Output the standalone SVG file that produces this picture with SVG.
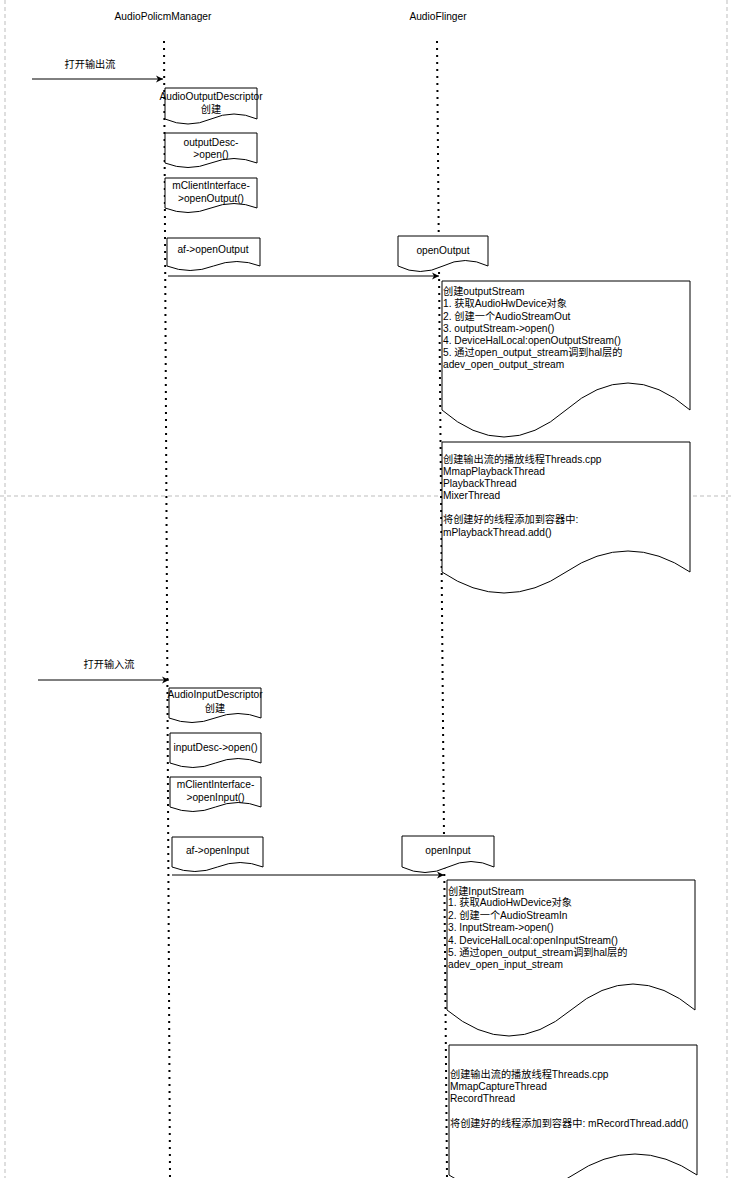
<svg xmlns="http://www.w3.org/2000/svg" width="731" height="1178" viewBox="0 0 731 1178">
<style>
text{font-family:"Liberation Sans","Noto Sans CJK SC",Arial,sans-serif;font-size:10.2px;fill:#000}
.c{text-anchor:middle}
.doc{fill:#fff;stroke:#000;stroke-width:1}
.life{stroke:#000;stroke-width:2;stroke-dasharray:2 5;fill:none}
.frame{stroke:#bdbdbd;stroke-width:1;stroke-dasharray:4 3;fill:none}
.msg{stroke:#000;stroke-width:1;fill:none;marker-end:url(#ah)}
</style>
<defs>
<marker id="ah" markerWidth="8" markerHeight="8" refX="7" refY="4" orient="auto" markerUnits="userSpaceOnUse">
<path d="M0,0.5 L7,4 L0,7.5 L2,4 Z" fill="#000"/>
</marker>
</defs>
<rect width="731" height="1178" fill="#fff"/>
<g id="frame">
<line class="frame" x1="5" y1="0" x2="5" y2="1178"/>
<line class="frame" x1="727" y1="0" x2="727" y2="1178"/>
<line class="frame" x1="0" y1="496" x2="731" y2="496"/>
</g>
<g id="lifelines">
<text class="c" x="163" y="20">AudioPolicmManager</text>
<text class="c" x="438" y="20">AudioFlinger</text>
<line class="life" x1="164" y1="41" x2="170" y2="1178"/>
<line class="life" x1="437" y1="41" x2="447" y2="1178"/>
</g>
<g id="connectors">
<line class="msg" x1="32" y1="79" x2="163" y2="79"/>
<line class="msg" x1="168" y1="276" x2="439" y2="276"/>
<line class="msg" x1="38" y1="680" x2="169" y2="680"/>
<line class="msg" x1="172" y1="875" x2="444" y2="875"/>
<text class="c" x="90" y="68">打开输出流</text>
<text class="c" x="109" y="668">打开输入流</text>
</g>
<g id="n1">
<path class="doc" d="M165,88 H257 V119 Q234,109 211,119 Q188,129 165,119 Z"/>
<text class="c" x="211" y="100">AudioOutputDescriptor</text>
<text class="c" x="211" y="113">创建</text>
</g>
<g id="n2">
<path class="doc" d="M165,133 H257 V163 Q234,154 211,163 Q188,172 165,163 Z"/>
<text class="c" x="211" y="146">outputDesc-</text>
<text class="c" x="211" y="158">&gt;open()</text>
</g>
<g id="n3">
<path class="doc" d="M165,178 H257 V208 Q234,199 211,208 Q188,217 165,208 Z"/>
<text class="c" x="211" y="189">mClientInterface-</text>
<text class="c" x="211" y="202">&gt;openOutput()</text>
</g>
<g id="n4">
<path class="doc" d="M167,238 H260 V266 Q237,257 213.5,266 Q190,275 167,266 Z"/>
<text class="c" x="213" y="253">af-&gt;openOutput</text>
</g>
<g id="n5">
<path class="doc" d="M398,236 H488 V266 Q465,255 443,266 Q420,277 398,266 Z"/>
<text class="c" x="443" y="254">openOutput</text>
</g>
<g id="n6">
<path class="doc" d="M442,281 H690 V410 Q628,356 566,410 Q504,464 442,410 Z"/>
<text x="443" y="295">创建outputStream</text>
<text x="443" y="307">1. 获取AudioHwDevice对象</text>
<text x="443" y="320">2. 创建一个AudioStreamOut</text>
<text x="443" y="332">3. outputStream-&gt;open()</text>
<text x="443" y="344">4. DeviceHalLocal:openOutputStream()</text>
<text x="443" y="356">5. 通过open_output_stream调到hal层的</text>
<text x="443" y="368">adev_open_output_stream</text>
</g>
<g id="n7">
<path class="doc" d="M442,442 H690 V572 Q628,530 566,572 Q504,614 442,572 Z"/>
<text x="443" y="463">创建输出流的播放线程Threads.cpp</text>
<text x="443" y="475">MmapPlaybackThread</text>
<text x="443" y="487">PlaybackThread</text>
<text x="443" y="499">MixerThread</text>
<text x="443" y="523">将创建好的线程添加到容器中:</text>
<text x="443" y="536">mPlaybackThread.add()</text>
</g>
<g id="n8">
<path class="doc" d="M169,688 H261 V718 Q238,709 215,718 Q192,727 169,718 Z"/>
<text class="c" x="215" y="698">AudioInputDescriptor</text>
<text class="c" x="215" y="712">创建</text>
</g>
<g id="n9">
<path class="doc" d="M170,733 H261 V763 Q238,754 215.5,763 Q193,772 170,763 Z"/>
<text class="c" x="215.5" y="751">inputDesc-&gt;open()</text>
</g>
<g id="n10">
<path class="doc" d="M170,777 H261 V807 Q238,798 215.5,807 Q193,816 170,807 Z"/>
<text class="c" x="215.5" y="788">mClientInterface-</text>
<text class="c" x="215.5" y="801">&gt;openInput()</text>
</g>
<g id="n11">
<path class="doc" d="M172,837 H263 V867 Q240,858 217.5,867 Q195,876 172,867 Z"/>
<text class="c" x="217.5" y="854">af-&gt;openInput</text>
</g>
<g id="n12">
<path class="doc" d="M402,836 H494 V867 Q471,856 448,867 Q425,878 402,867 Z"/>
<text class="c" x="448" y="854">openInput</text>
</g>
<g id="n13">
<path class="doc" d="M447,880 H695 V1010 Q633,958 571,1010 Q509,1062 447,1010 Z"/>
<text x="448" y="895">创建InputStream</text>
<text x="448" y="906">1. 获取AudioHwDevice对象</text>
<text x="448" y="919">2. 创建一个AudioStreamIn</text>
<text x="448" y="931">3. InputStream-&gt;open()</text>
<text x="448" y="944">4. DeviceHalLocal:openInputStream()</text>
<text x="448" y="956">5. 通过open_output_stream调到hal层的</text>
<text x="448" y="968">adev_open_input_stream</text>
</g>
<g id="n14">
<path class="doc" d="M449,1045 H697 V1175 Q635,1133 573,1175 Q511,1217 449,1175 Z"/>
<text x="450" y="1078">创建输出流的播放线程Threads.cpp</text>
<text x="450" y="1090">MmapCaptureThread</text>
<text x="450" y="1102">RecordThread</text>
<text x="450" y="1127">将创建好的线程添加到容器中: mRecordThread.add()</text>
</g>
</svg>
